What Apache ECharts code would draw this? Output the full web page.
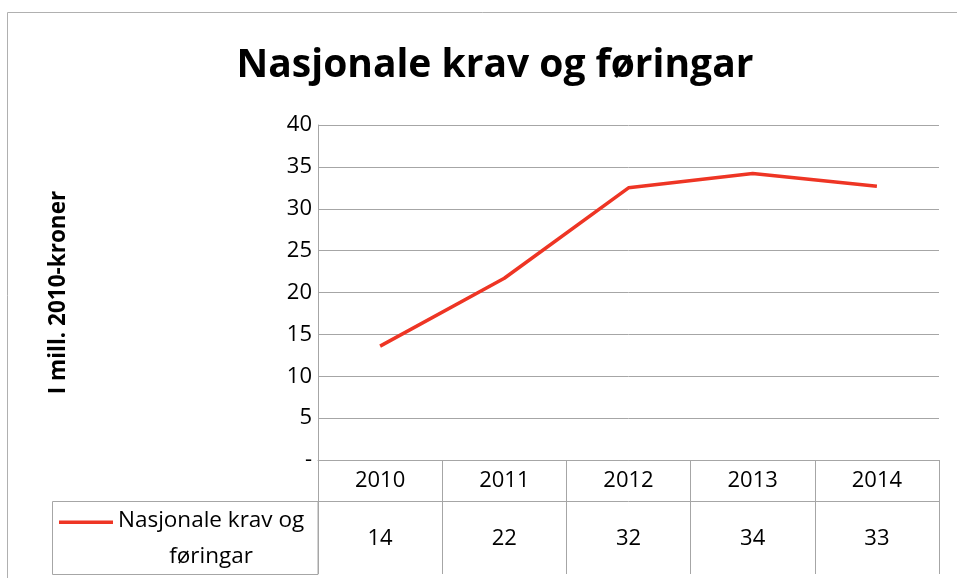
<!DOCTYPE html>
<html>
<head>
<meta charset="utf-8">
<script src="https://cdn.jsdelivr.net/npm/echarts@6/dist/echarts.min.js"></script>
<style>
  html, body { margin: 0; padding: 0; background: #fff; }
  #chart { width: 957px; height: 578px; }
</style>
</head>
<body>
<div id="chart"></div>
<script>
// ── Data ────────────────────────────────────────────────
const years      = ['2010', '2011', '2012', '2013', '2014']
const values     = [13.6, 21.7, 32.5, 34.2, 32.7]
const tableVals  = ['14', '22', '32', '34', '33']
const seriesName = 'Nasjonale krav og føringar'

const FONT = '"Open Sans", "Noto Sans", sans-serif'
const GRID_C = '#a6a6a6'
const RED = '#ee3524'

const chart = echarts.init(document.getElementById('chart'), null, { renderer: 'canvas' })

chart.setOption({
  animation: false,
  backgroundColor: '#fff',
  textStyle: { fontFamily: FONT },
  title: {
    text: seriesName,
    left: 490,
    textAlign: 'center',
    top: 41,
    textStyle: { fontSize: 39, fontWeight: 'bold', color: '#000', fontFamily: FONT },
  },
  legend: {
    left: 59,
    top: 509,
    padding: 0,
    itemWidth: 54,
    itemHeight: 36,
    itemGap: 5,
    // line at the top of the icon box so it sits next to the first text line
    icon: 'path://M0,0L54,0L54,3.5L0,3.5Z M0,36L0.01,36L0.01,36.01Z',
    data: [seriesName],
    formatter: () => '{a|Nasjonale krav og}\n{a|føringar}',
    textStyle: {
      rich: {
        a: { fontSize: 22.5, color: '#000', lineHeight: 36, align: 'center', fontFamily: FONT },
      },
    },
  },
  grid: { left: 318, right: 18, top: 125, bottom: 118 },
  xAxis: [
    {
      type: 'category',
      data: years,
      boundaryGap: true,
      axisLine: { lineStyle: { color: GRID_C } },
      axisTick: { show: true, length: 41, interval: 0, lineStyle: { color: GRID_C } },
      axisLabel: { fontSize: 22, color: '#000', margin: 10, fontFamily: FONT },
      splitLine: { show: false },
    },
    {
      type: 'category',
      data: years,
      position: 'bottom',
      offset: 41,
      boundaryGap: true,
      axisLine: { lineStyle: { color: GRID_C } },
      axisTick: { show: true, length: 73, interval: 0, lineStyle: { color: GRID_C } },
      axisLabel: {
        fontSize: 22, color: '#000', margin: 27, fontFamily: FONT,
        formatter: (v, i) => tableVals[i],
      },
      splitLine: { show: false },
    },
  ],
  yAxis: {
    type: 'value',
    min: 0,
    max: 40,
    interval: 5,
    name: 'I mill. 2010-kroner',
    nameLocation: 'middle',
    nameRotate: 90,
    nameGap: 248,
    nameTextStyle: { fontSize: 22.5, fontWeight: 'bold', color: '#000', fontFamily: FONT },
    axisLine: { show: true, lineStyle: { color: GRID_C } },
    axisTick: { show: false },
    axisLabel: {
      fontSize: 22, color: '#000', margin: 6, fontFamily: FONT,
      formatter: v => (v === 0 ? '-' : String(v)),
    },
    splitLine: { lineStyle: { color: GRID_C } },
  },
  graphic: [
    // outer chart border
    { type: 'rect', shape: { x: 7.5, y: 12.5, width: 960, height: 600 }, style: { fill: 'none', stroke: '#b0b0b0', lineWidth: 1 }, silent: true },
    // left legend cell of the data table
    { type: 'rect', shape: { x: 52.5, y: 501.5, width: 265.5, height: 73 }, style: { fill: 'none', stroke: GRID_C, lineWidth: 1 }, silent: true },
  ],
  series: [
    {
      name: seriesName,
      type: 'line',
      data: values,
      showSymbol: false,
      symbol: 'none',
      lineStyle: { width: 3.5, color: RED },
      itemStyle: { color: RED },
    },
  ],
})
</script>
</body>
</html>
